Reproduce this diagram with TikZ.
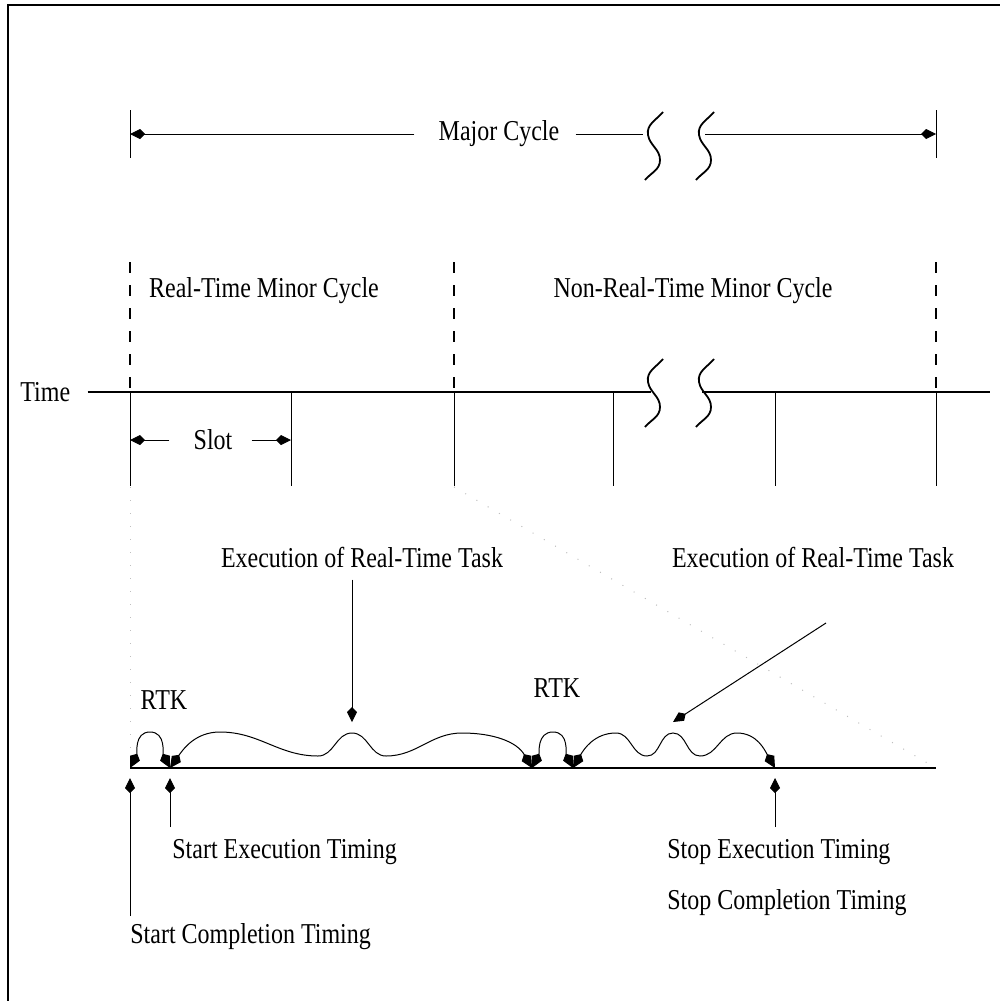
\documentclass[tikz,border=0pt]{standalone}
\usepackage{fontspec}
\setmainfont{Liberation Serif}[FakeStretch=0.833]
\usetikzlibrary{positioning,arrows.meta,calc}

\begin{document}
\begin{tikzpicture}[
  x=0.5pt, y=-0.5pt,
  txt/.style={font=\fontsize{14.4}{16}\selectfont, inner sep=0pt},
  rule/.style={line width=0.5pt},
  axis/.style={line width=1pt},
  dim/.style={-{Kite[length=7.5pt,width=5pt,inset=2.5pt]}, line width=0.5pt},
  hop/.style={{Kite[length=8pt,width=5.5pt,inset=2.5pt]}-{Kite[length=8pt,width=5.5pt,inset=2.5pt]}, line width=0.5pt},
  guide/.style={dash pattern=on 5.5pt off 6pt, line width=0.8pt},
  ghost/.style={gray!50, dash pattern=on 0.5pt off 6pt, line width=0.5pt},
  brk/.style={line width=0.9pt}
]
\useasboundingbox (0,0) rectangle (1000,1001);

% frame
\draw[line width=1pt] (8,1001) -- (8,5) -- (1000,5);

% major cycle
\coordinate (mjL) at (130,134);
\coordinate (mjR) at (936,134);
\coordinate (mjB) at (643,134);
\coordinate (mjC) at (705,134);
\node[txt] (major) at (499,134) {Major Cycle};
\draw[rule] (130,110) -- (130,158);
\draw[rule] (936,110) -- (936,158);
\draw[dim] ([xshift=-12pt]major.west) -- (mjL);
\draw[rule] ([xshift=8pt]major.east) -- (mjB);
\draw[dim] (mjC) -- (mjR);

% minor cycles
\node[txt] (rtminor) at (264,291) {Real-Time Minor Cycle};
\node[txt] (nrtminor) at (693,291) {Non-Real-Time Minor Cycle};
\foreach \x in {130,454,936}
  \draw[guide] (\x,262) -- (\x,392);

% time line
\node[txt, anchor=west] (time) at (20,392) {Time};
\coordinate (tlA) at (651,392);
\coordinate (tlB) at (702,392);
\coordinate (tlE) at (990,392);
\draw[axis] ([xshift=8.5pt]time.east) -- (tlA);
\draw[axis] (tlB) -- (tlE);
\foreach \x in {130,291,454,613,775,936}
  \draw[rule] (\x,392) -- (\x,486);

% breaks
\foreach \dx/\dy in {0/0,51/0,0/247,51/247}
  \draw[brk, shift={(\dx,\dy)}] (663,112) to[out=-130,in=100] (648,135)
    to[out=-80,in=90] (660,160) to[out=-90,in=50] (645,180);

% slot
\node[txt] (slot) at (213,440) {Slot};
\coordinate (slL) at (130,440);
\coordinate (slR) at (291,440);
\draw[dim] ([xshift=-12pt]slot.west) -- (slL);
\draw[dim] ([xshift=9.5pt]slot.east) -- (slR);

% zoom guides
\draw[ghost] (130,487) -- (130,768);
\draw[ghost] (454,487) -- (936,768);

% expanded slot
\coordinate (t0) at (130,768);
\coordinate (t1) at (170,768);
\coordinate (t2) at (532,768);
\coordinate (t3) at (573,768);
\coordinate (t4) at (775,768);
\coordinate (tend) at (936,768);
\draw[axis] (t0) -- (tend);

\node[txt] (rtk1) at (164,700) {RTK};
\node[txt] (rtk2) at (557,688) {RTK};
\draw[hop] (t0) to[out=63,in=180] (150,732) to[out=0,in=117] (t1);
\draw[hop] (t2) to[out=63,in=180] (553,732) to[out=0,in=117] (t3);
\draw[hop] (t1) to[out=55,in=180] (220,732) to[out=0,in=180] (318,756)
  to[out=0,in=180] (352,733) to[out=0,in=180] (386,756)
  to[out=0,in=180] (462,733) to[out=0,in=120] (t2);
\draw[hop] (t3) to[out=60,in=180] (616,733) to[out=0,in=180] (647,756)
  to[out=0,in=180] (673,733) to[out=0,in=180] (700,756)
  to[out=0,in=180] (737,733) to[out=0,in=120] (t4);

% task labels
\node[txt] (exec1) at (362,557) {Execution of Real-Time Task};
\node[txt] (exec2) at (813,557) {Execution of Real-Time Task};
\coordinate (bump1) at (352,722);
\coordinate (bump2) at (673,722);
\coordinate (tail2) at (826,623);
\draw[dim] ([yshift=-6pt]exec1.south -| bump1) -- (bump1);
\draw[dim] (tail2) -- (bump2);

% timing marks
\node[txt, anchor=west] (startexec) at (172,852) {Start Execution Timing};
\node[txt, anchor=west] (startcomp) at (130,937) {Start Completion Timing};
\node[txt, anchor=west] (stopexec) at (667,852) {Stop Execution Timing};
\node[txt, anchor=west] (stopcomp) at (667,903) {Stop Completion Timing};
\draw[dim] ($(t0)+(0,148)$) -- ($(t0)+(0,10)$);
\draw[dim] ($(t1)+(0,59)$) -- ($(t1)+(0,10)$);
\draw[dim] ($(t4)+(0,59)$) -- ($(t4)+(0,10)$);
\end{tikzpicture}
\end{document}
